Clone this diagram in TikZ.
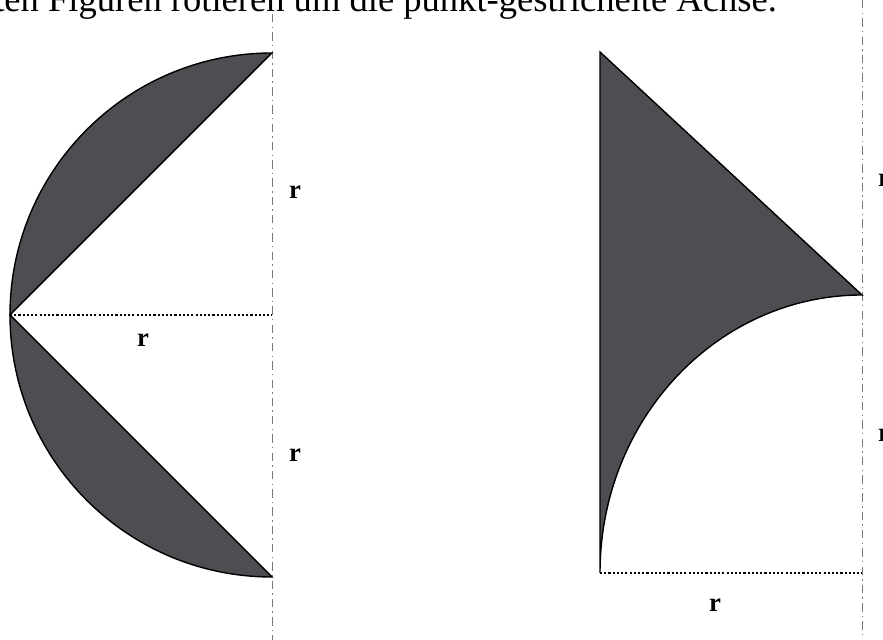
\documentclass[tikz,border=0pt]{standalone}
\usepackage{fontspec}
\setmainfont{Liberation Serif}
\usetikzlibrary{positioning, calc}
\definecolor{shadegray}{RGB}{78, 78, 82}
\definecolor{axisgray}{RGB}{120, 120, 130}

\begin{document}
\begin{tikzpicture}[
  axis/.style={axisgray, line width=0.6pt, dash pattern=on 6pt off 3pt on 1pt off 3pt},
  radiusline/.style={black, line width=0.8pt, dash pattern=on 1.5pt off 1.5pt},
  segment/.style={fill=shadegray, draw=black, line width=1pt},
  rlabel/.style={font=\fontsize{19}{19}\selectfont\bfseries, inner sep=0pt}]
\useasboundingbox (0,0) rectangle (22.075,16);
% caption line, cut at the top
\node[anchor=base west, inner sep=0pt, font=\fontsize{26}{26}\selectfont] (caption) at (-0.15,15.7) {ten Figuren rotieren um die punkt-gestrichelte Achse.};
% left figure: half disc minus triangle
\coordinate (ltop) at (6.8,14.675);
\coordinate (lmid) at (0.25,8.125);
\coordinate (lbot) at (6.8,1.575);
\draw[axis] (6.8,15.65) -- (6.8,0);
\filldraw[segment] (ltop) arc[start angle=90, end angle=180, radius=6.55] -- cycle;
\filldraw[segment] (lmid) arc[start angle=180, end angle=270, radius=6.55] -- cycle;
\draw[radiusline] (lmid) -- (6.8,8.125);
\node[rlabel] (lr1) at (7.375,11.2) {r};
\node[rlabel] (lr2) at (3.575,7.5) {r};
\node[rlabel] (lr3) at (7.375,4.625) {r};
% right figure: triangle with concave arc
\coordinate (rtop) at (15,14.7);
\coordinate (rtip) at (21.55,8.625);
\coordinate (rbot) at (15,1.675);
\draw[axis] (21.55,16) -- (21.55,0);
\filldraw[segment] (rtop) -- (rtip) arc[start angle=90, end angle=180, x radius=6.55, y radius=6.95] -- cycle;
\draw[radiusline] (rbot) -- (21.55,1.675);
\node[rlabel] (rr1) at (17.875,0.875) {r};
\node[rlabel] (rr2) at (22.1,11.5) {r};
\node[rlabel] (rr3) at (22.1,5.125) {r};
\end{tikzpicture}
\end{document}
